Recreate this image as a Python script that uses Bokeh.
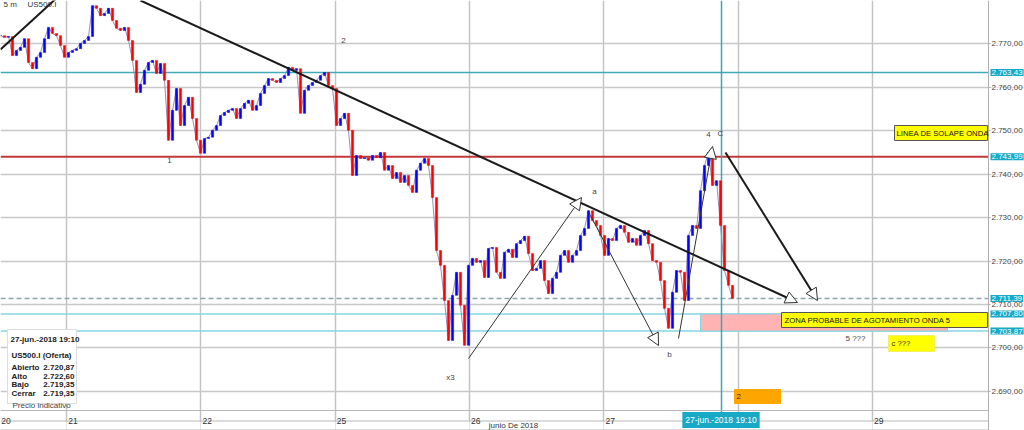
from bokeh.plotting import figure
from bokeh.models import (Range1d, FixedTicker, Label, Arrow, NormalHead, ColumnDataSource,
                          LinearAxis, Grid)
from bokeh.embed import file_html
from bokeh.resources import INLINE

# ---------------- data ----------------
day_labels = ["20", "21", "22", "25", "26", "27", "29"]
day_index = [0, 1, 2, 3, 4, 5, 7]          # trading-day index (weekend removed)
day_lines = [1, 2, 3, 4, 5, 6, 7]
month_label = "junio De 2018"
bars_per_day = 33.575
first_bar = 0.5086
closes = [
    2771.9, 2771.5, 2771.7, 2767.3, 2768.5, 2769.2, 2771.2, 2765.7, 2764.3, 2766.9,
    2768.0, 2771.2, 2773.8, 2772.4, 2771.9, 2769.6, 2766.9, 2768.0, 2768.5, 2768.9,
    2770.1, 2770.8, 2771.7, 2778.8, 2778.2, 2776.5, 2777.0, 2778.2, 2775.4, 2773.6,
    2773.1, 2773.8, 2770.8, 2766.2, 2758.8, 2760.7, 2763.9, 2765.7, 2766.2, 2763.2,
    2765.5, 2761.6, 2747.8, 2754.7, 2759.7, 2751.2, 2755.8, 2757.7, 2752.8, 2747.8,
    2744.8, 2748.2, 2748.5, 2750.1, 2751.2, 2753.5, 2754.2, 2754.7, 2755.1, 2752.8,
    2755.1, 2756.3, 2757.0, 2754.7, 2755.8, 2758.6, 2760.4, 2762.0, 2761.6, 2761.1,
    2762.0, 2762.7, 2764.6, 2763.9, 2764.3, 2754.0, 2759.3, 2760.4, 2761.1, 2761.6,
    2762.7, 2763.4, 2760.4, 2759.7, 2751.2, 2752.8, 2754.0, 2750.1, 2739.7, 2744.3,
    2743.6, 2743.8, 2743.2, 2744.3, 2743.8, 2745.0, 2740.9, 2742.0, 2739.0, 2740.4,
    2738.1, 2739.7, 2737.4, 2735.8, 2740.9, 2742.5, 2743.6, 2742.0, 2734.6, 2722.4,
    2719.0, 2710.9, 2701.7, 2712.1, 2717.4, 2709.8, 2700.6, 2719.0, 2720.6, 2719.7,
    2720.1, 2716.2, 2722.9, 2723.1, 2717.4, 2716.0, 2722.0, 2722.7, 2720.8, 2724.0,
    2724.7, 2725.7, 2721.7, 2717.8, 2718.3, 2720.1, 2715.5, 2712.5, 2716.0, 2717.4,
    2721.3, 2722.4, 2719.7, 2721.3, 2722.4, 2725.9, 2727.5, 2731.6, 2729.3, 2728.2,
    2725.9, 2721.3, 2725.2, 2724.7, 2727.5, 2728.2, 2726.6, 2724.3, 2725.2, 2723.6,
    2725.9, 2727.0, 2724.0, 2720.1, 2719.7, 2715.5, 2709.1, 2704.5, 2712.8, 2717.8,
    2717.4, 2710.9, 2725.9, 2728.2, 2727.5, 2736.2, 2742.0, 2745.0, 2737.4, 2738.5,
    2728.2, 2717.8, 2714.4, 2711.4,
]
price_ticks = [2690, 2700, 2710, 2720, 2730, 2740, 2750, 2760, 2770]
price_tick_labels = ["2.690,00", "2.700,00", "2.710,00", "2.720,00", "2.730,00",
                     "2.740,00", "2.750,00", "2.760,00", "2.770,00"]
level_prices = [2763.43, 2743.99, 2711.39, 2707.80, 2703.87]
level_labels = ["2.763,43", "2.743,99", "2.711,39", "2.707,80", "2.703,87"]
info_names = ["Abierto", "Alto", "Bajo", "Cerrar"]
info_values = ["2.720,87", "2.722,60", "2.719,35", "2.719,35"]

FONT = "Liberation Sans"

# reference-pixel helpers for annotation placement
def X(px):
    return 1 + (px - 66.0) / 134.3

def Y(py):
    return 2779.99 - py / 4.3425

p = figure(width=1024, height=430, output_backend="svg", toolbar_location=None,
           x_range=Range1d(X(0), X(1024)), y_range=Range1d(Y(430), Y(0)),
           x_axis_location=None, y_axis_location=None,
           min_border_left=0, min_border_top=0, min_border_right=0, min_border_bottom=0,
           outline_line_color=None)
p.background_fill_color = "white"
p.border_fill_color = "white"

# grids
p.add_layout(Grid(dimension=0, ticker=FixedTicker(ticks=day_lines), grid_line_color="#c4c4c4",
                  grid_line_width=1.5, cross_bounds=(Y(421), Y(0))))
p.add_layout(Grid(dimension=1, ticker=FixedTicker(ticks=price_ticks), grid_line_color="#c8c8c8",
                  grid_line_width=1.5, cross_bounds=(X(0), X(988))))

# right price axis
ya = LinearAxis(fixed_location=X(988), ticker=FixedTicker(ticks=price_ticks),
                major_label_overrides=dict(zip(price_ticks, price_tick_labels)))
ya.axis_line_color = "#b0b0b0"
ya.major_tick_line_color = "#b0b0b0"
ya.major_tick_out = 2
ya.major_tick_in = 0
ya.minor_tick_line_color = None
ya.major_label_standoff = 1
ya.major_label_text_font = FONT
ya.major_label_text_font_size = "8px"
ya.major_label_text_color = "#444444"
p.add_layout(ya, "right")

# day axis
x_tick_pos = [0.5495] + [d + 0.048 for d in day_index[1:]]
xa = LinearAxis(fixed_location=Y(410), ticker=FixedTicker(ticks=x_tick_pos),
                major_label_overrides=dict(zip(x_tick_pos, day_labels)), bounds=(X(0), X(988)))
xa.axis_line_color = "#b8b8b8"
xa.major_tick_line_color = None
xa.minor_tick_line_color = None
xa.major_label_standoff = 1
xa.major_label_text_font = FONT
xa.major_label_text_font_size = "8.5px"
xa.major_label_text_color = "#333333"
p.add_layout(xa, "below")

# month row
p.segment(x0=[X(0), X(0)], y0=[Y(420.5), Y(429.5)], x1=[X(988), X(988)], y1=[Y(420.5), Y(429.5)],
          line_color="#b8b8b8", line_width=1)

# horizontal levels
def hline(price, color, width, dash="solid"):
    p.segment(x0=[X(0)], y0=[price], x1=[X(988)], y1=[price], line_color=color,
              line_width=width, line_dash=dash)

hline(level_prices[0], "#41a9b8", 1.5)
hline(level_prices[1], "#c0393b", 2)
hline(level_prices[2], "#86a6ab", 1.5, "5 3")
hline(level_prices[3], "#86d6e2", 1.5)
hline(level_prices[4], "#86d6e2", 1.5)

# pink zone
p.quad(left=X(700), right=X(947), top=level_prices[3], bottom=level_prices[4],
       fill_color="#ffb3b3", line_color="#86d6e2", line_width=1)

# crosshair
p.segment(x0=[X(721)], y0=[Y(0)], x1=[X(721)], y1=[Y(412)], line_color="#3aa6b9", line_width=1.5)

# price bars
xs = [first_bar + i / bars_per_day for i in range(len(closes))]
opens = [closes[0]] + closes[:-1]
colors = ["#0000ff" if c >= o else "#ff0000" for o, c in zip(opens, closes)]
src = ColumnDataSource(dict(x=xs, open=opens, close=closes, color=colors))
p.line("x", "close", source=src, line_color="#9a8fb5", line_width=1)
p.vbar(x="x", top="open", bottom="close", width=0.55 / bars_per_day, source=src,
       fill_color="color", line_color="color", line_width=0.5)

# trend lines
p.segment(x0=[X(0)], y0=[Y(49)], x1=[X(60)], y1=[Y(-6)], line_color="#1a1a1a", line_width=2)

def arrow(x0, y0, x1, y1, w, color):
    p.add_layout(Arrow(end=NormalHead(size=12, fill_color="white", line_color="#333333", line_width=1),
                       x_start=X(x0), y_start=Y(y0), x_end=X(x1), y_end=Y(y1),
                       line_color=color, line_width=w))

arrow(140, 0, 797, 302, 2, "#1a1a1a")
arrow(468, 358, 581, 197, 1, "#333333")
arrow(590, 215, 658, 345, 1, "#333333")
arrow(678, 338, 712, 146, 1, "#333333")
arrow(725, 152, 817, 300, 2, "#1a1a1a")

def label(px, py, text, size="8px", color="#444444", align="left", bold=False, **kw):
    p.add_layout(Label(x=X(px), y=Y(py), text=text, text_font=FONT, text_font_size=size,
                       text_color=color, text_align=align, text_baseline="middle",
                       text_font_style="bold" if bold else "normal", **kw))

# wave labels
label(343, 40, "2", align="center")
label(169, 160, "1", align="center")
label(594, 191, "a", align="center")
label(669, 354, "b", align="center")
label(450, 377, "x3", align="center")
label(708, 134, "4", align="center")
label(720, 133, "C", align="center")
label(845, 338, "5 ???")

# yellow / orange boxes
p.quad(left=X(894), right=X(987), top=Y(125), bottom=Y(140), fill_color="#ffff00", line_color="#555555")
label(896, 132.5, "LINEA DE SOLAPE ONDA", size="7.7px", color="#111111")
p.quad(left=X(781), right=X(987), top=Y(312), bottom=Y(327), fill_color="#ffff00", line_color="#555555")
label(784, 319.5, "ZONA PROBABLE DE AGOTAMIENTO ONDA 5", size="7.7px", color="#111111")
p.quad(left=X(888), right=X(934), top=Y(335), bottom=Y(351), fill_color="#ffff00", line_color="#f0f060")
label(891, 343, "c ???", size="7.7px", color="#333333")
p.quad(left=X(734), right=X(780), top=Y(389), bottom=Y(403), fill_color="#ffa500", line_color="#ffa500")
label(736, 396, "2", size="8px", color="#333333")

# info box
p.quad(left=X(7), right=X(76), top=Y(329), bottom=Y(403), fill_color="white", line_color="#dddddd")
label(10, 339, "27-jun.-2018 19:10", size="8px", color="#222222", bold=True)
label(11, 355, "US500.I (Oferta)", size="8px", color="#222222", bold=True)
for i, (n, v) in enumerate(zip(info_names, info_values)):
    label(11, 367 + i * 8.7, n, size="8px", color="#222222", bold=True)
    label(74, 367 + i * 8.7, v, size="8px", color="#222222", align="right", bold=True)
label(12, 405, "Precio indicativo", size="8px", color="#444444")

# top-left caption
label(3, 4, "5 m", size="8px", color="#333333")
label(27, 4, "US500.I", size="8px", color="#333333")

# month label
label(513, 425, month_label, size="8px", color="#333333", align="center")

# right-side price tags
for pr, txt in zip(level_prices, level_labels):
    p.add_layout(Label(x=X(990), y=pr, text=txt, text_font=FONT, text_font_size="8px",
                       text_color="white", text_align="left", text_baseline="middle",
                       background_fill_color="#17a9c6", padding=1))

# crosshair time tag
p.add_layout(Label(x=X(720.5), y=Y(419.5), text="27-jun.-2018 19:10", text_font=FONT,
                   text_font_size="8.5px", text_color="white", text_align="center",
                   text_baseline="middle", background_fill_color="#17a9c6", padding=3))

open("out.html", "w").write(file_html(p, INLINE))
